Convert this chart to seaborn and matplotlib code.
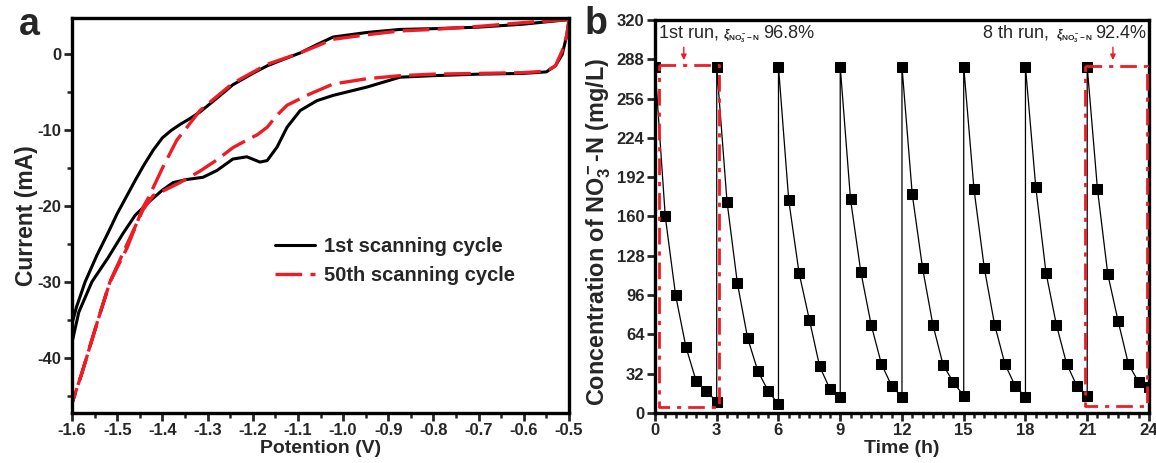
import numpy as np
import pandas as pd
import matplotlib
matplotlib.use("Agg")
import matplotlib.pyplot as plt
from matplotlib.ticker import MultipleLocator
import seaborn as sns

# ---- panel a: CV curves (potential V, current mA) ----
cyc1_upper_x = [-0.50, -0.55, -0.60, -0.70, -0.80, -0.874, -0.947, -1.022, -1.058, -1.095,
                -1.13, -1.168, -1.20, -1.244, -1.28, -1.317, -1.34, -1.36, -1.38, -1.40,
                -1.42, -1.44, -1.46, -1.48, -1.50, -1.52, -1.545, -1.571, -1.59, -1.60]
cyc1_upper_y = [4.6, 4.3, 4.0, 3.6, 3.4, 3.3, 2.9, 2.3, 1.3, 0.2,
                -0.6, -1.5, -2.5, -4.0, -5.8, -7.6, -8.5, -9.2, -10.0, -11.0,
                -12.6, -14.5, -16.6, -18.8, -21.0, -23.5, -26.5, -30.0, -33.3, -35.5]
cyc1_lower_x = [-1.60, -1.585, -1.556, -1.52, -1.487, -1.46, -1.427, -1.40, -1.376, -1.346,
                -1.31, -1.279, -1.244, -1.213, -1.184, -1.168, -1.146, -1.124, -1.095, -1.058,
                -1.022, -0.947, -0.874, -0.80, -0.70, -0.60, -0.55, -0.53, -0.515, -0.505, -0.50]
cyc1_lower_y = [-38.0, -34.0, -30.0, -26.8, -23.6, -21.2, -19.3, -17.9, -16.9, -16.5,
                -16.2, -15.3, -13.8, -13.5, -14.2, -14.0, -12.2, -9.6, -7.4, -6.1,
                -5.4, -4.3, -3.0, -2.8, -2.6, -2.5, -2.3, -1.5, 0.0, 2.5, 4.6]

cyc50_upper_x = [-0.50, -0.55, -0.60, -0.70, -0.80, -0.874, -0.947, -1.022, -1.095, -1.168,
                 -1.244, -1.317, -1.339, -1.368, -1.40, -1.43, -1.443, -1.478, -1.516, -1.545,
                 -1.578, -1.60]
cyc50_upper_y = [4.6, 4.4, 4.2, 3.7, 3.3, 3.1, 2.6, 2.0, 0.2, -1.3,
                 -3.8, -7.4, -9.1, -11.3, -15.0, -18.8, -20.2, -25.5, -30.0, -35.5,
                 -42.0, -46.0]
cyc50_lower_x = [-1.60, -1.578, -1.545, -1.516, -1.478, -1.443, -1.42, -1.405, -1.361, -1.317,
                 -1.279, -1.244, -1.21, -1.19, -1.168, -1.146, -1.124, -1.073, -1.022, -0.947,
                 -0.874, -0.80, -0.70, -0.60, -0.55, -0.53, -0.515, -0.505, -0.50]
cyc50_lower_y = [-46.0, -42.0, -35.5, -30.0, -25.0, -20.5, -18.6, -18.2, -16.9, -15.4,
                 -13.9, -12.3, -11.2, -10.6, -9.6, -8.0, -6.7, -5.2, -3.9, -3.2,
                 -2.8, -2.6, -2.5, -2.4, -2.2, -1.5, 0.5, 2.5, 4.6]

# ---- panel b: nitrate concentration over 8 runs ----
run_time = [0, 0.5, 1, 1.5, 2, 2.5, 3]
runs = [
    [282, 160, 96, 54, 26, 18, 9],
    [282, 172, 106, 61, 34, 18, 7],
    [282, 173, 114, 76, 38, 19.5, 13],
    [282, 174, 115, 72, 40, 22, 13],
    [282, 178, 118, 72, 39, 25, 14],
    [282, 182, 118, 72, 40, 22, 13],
    [282, 184, 114, 72, 40, 22, 13.5],
    [282, 182, 113, 75, 40, 25, 21],
]
x_ticks_b = [0, 3, 6, 9, 12, 15, 18, 21, 24]
y_ticks_b = [0, 32, 64, 96, 128, 160, 192, 224, 256, 288, 320]

rows = []
for i, r in enumerate(runs):
    for t, c in zip(run_time, r):
        rows.append({"time": i * 3 + t, "conc": c})
df_b = pd.DataFrame(rows)

sns.set_style("ticks")
plt.rcParams["font.family"] = ["Liberation Sans", "DejaVu Sans"]
plt.rcParams["font.weight"] = "bold"
plt.rcParams["axes.labelweight"] = "bold"
plt.rcParams["mathtext.fontset"] = "custom"
plt.rcParams["mathtext.rm"] = "Liberation Sans:bold"
plt.rcParams["mathtext.it"] = "Liberation Sans:italic:bold"
plt.rcParams["mathtext.bf"] = "Liberation Sans:bold"

RED = "#ee1c25"

fig = plt.figure(figsize=(11.56, 4.63), dpi=100)
ax1 = fig.add_axes([0.0623, 0.108, 0.4299, 0.853])
ax2 = fig.add_axes([0.5666, 0.108, 0.4273, 0.849])

# panel a
sns.lineplot(x=cyc1_upper_x + cyc1_lower_x, y=cyc1_upper_y + cyc1_lower_y, sort=False,
             estimator=None, color="black", lw=2.2, ax=ax1, label="1st scanning cycle")
sns.lineplot(x=cyc50_upper_x + cyc50_lower_x, y=cyc50_upper_y + cyc50_lower_y, sort=False,
             estimator=None, color=RED, lw=2.4, ax=ax1, label="50th scanning cycle")
ax1.lines[-1].set_dashes([8, 2.5])

ax1.set_xlim(-1.6, -0.5)
ax1.set_ylim(-47.3, 4.8)
ax1.xaxis.set_minor_locator(MultipleLocator(0.05))
ax1.yaxis.set_minor_locator(MultipleLocator(5))
ax1.set_xticks(np.round(np.arange(-1.6, -0.49, 0.1), 1))
ax1.set_xticklabels([f"{v:.1f}" for v in np.arange(-1.6, -0.49, 0.1)])
ax1.set_yticks([-40, -30, -20, -10, 0])
ax1.set_yticklabels(["-40", "-30", "-20", "-10", "0"])
ax1.set_xlabel("Potention (V)", fontsize=14, fontweight="bold", labelpad=1)
ax1.set_ylabel("Current (mA)", fontsize=16.5, fontweight="bold", labelpad=0)
leg = ax1.legend(frameon=False, loc="center left", bbox_to_anchor=(0.372, 0.385),
                 fontsize=14.5, handlelength=2.0, handletextpad=0.45, labelspacing=0.5)

# panel b
sns.lineplot(data=df_b, x="time", y="conc", sort=False, estimator=None, color="black",
             lw=0.9, marker="s", markersize=7.5, markeredgecolor="black", ax=ax2)
ax2.set_xlim(0, 24)
ax2.set_ylim(0, 320)
ax2.set_xticks(x_ticks_b)
ax2.set_xticklabels([str(v) for v in x_ticks_b])
ax2.xaxis.set_minor_locator(MultipleLocator(0.5))
ax2.set_yticks(y_ticks_b)
ax2.set_yticklabels([str(v) for v in y_ticks_b])
ax2.set_xlabel("Time (h)", fontsize=14, fontweight="bold", labelpad=1)
ax2.set_ylabel(r"Concentration of NO$_3^-$-N (mg/L)", fontsize=16.8, fontweight="bold",
               labelpad=1)
ax2.yaxis.set_label_coords(-0.085, 0.46)

# red dash-dot boxes and arrows
for x0, x1, y0, y1 in [(0.18, 3.13, 5, 283), (20.9, 23.9, 5.5, 282.5)]:
    ax2.plot([x0, x1, x1, x0, x0], [y1, y1, y0, y0, y1], color=RED, lw=2.0,
             dashes=[6, 2.5, 1.5, 2.5], zorder=4)
for xa in [1.4, 22.25]:
    ax2.annotate("", xy=(xa, 285), xytext=(xa, 300),
                 arrowprops=dict(arrowstyle="-|>", color=RED, lw=1.0, mutation_scale=8))

ax2.text(0.2, 309, "1st run,", fontsize=13, fontweight="normal", va="center", ha="left")
ax2.text(3.3, 307, r"$\xi_{\mathrm{NO_3^-\!-N}}$", fontsize=8.5, va="center", ha="left")
ax2.text(5.25, 309, "96.8%", fontsize=13, fontweight="normal", va="center", ha="left")
ax2.text(15.94, 309, "8 th run,", fontsize=13, fontweight="normal", va="center", ha="left")
ax2.text(19.5, 307, r"$\xi_{\mathrm{NO_3^-\!-N}}$", fontsize=8.5, va="center", ha="left")
ax2.text(23.85, 309, "92.4%", fontsize=13, fontweight="normal", va="center", ha="right")

for ax in (ax1, ax2):
    for s in ax.spines.values():
        s.set_visible(True)
        s.set_linewidth(2.4)
        s.set_color("black")
    ax.tick_params(which="major", direction="out", length=5.5, width=2.0, labelsize=12,
                   pad=2, top=False, right=False)
    ax.tick_params(which="minor", direction="out", length=3.5, width=1.8, top=False, right=False)
    for lab in ax.get_xticklabels() + ax.get_yticklabels():
        lab.set_fontweight("bold")

fig.text(0.016, 0.945, "a", fontsize=27, fontweight="bold", va="center")
fig.text(0.506, 0.948, "b", fontsize=27, fontweight="bold", va="center")

fig.savefig("out.png", dpi=100)
